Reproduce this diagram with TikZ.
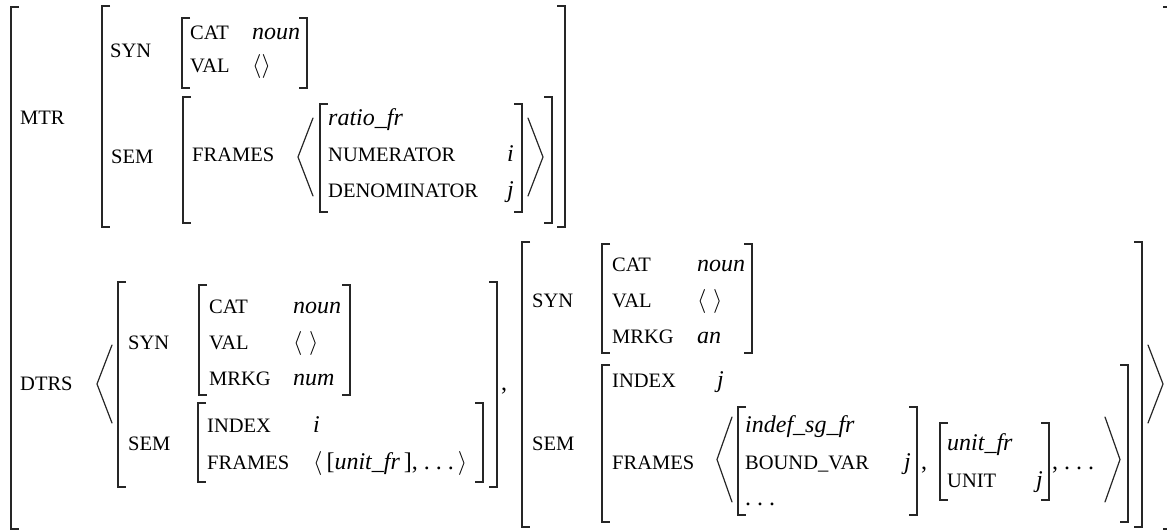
\RequirePackage{fix-cm}
\documentclass[tikz,border=0pt]{standalone}
\usepackage{fontspec}
\setmainfont{Liberation Serif}
\begin{document}
\newcommand{\featfont}{\fontsize{20.5}{24}\selectfont}
\newcommand{\valfont}{\fontsize{24}{28}\selectfont\itshape}
% square brackets: x, top, bottom
\newcommand{\avmL}[3]{\draw[brk] (#1+8,#2) -- (#1,#2) -- (#1,#3) -- (#1+8,#3);}
\newcommand{\avmR}[3]{\draw[brk] (#1-8,#2) -- (#1,#2) -- (#1,#3) -- (#1-8,#3);}
% angle brackets: tip x, open x, top, bottom
\newcommand{\angB}[4]{\draw[ang] (#2,#3) -- (#1,{(#3+#4)/2}) -- (#2,#4);}
\begin{tikzpicture}[x=1pt,y=-1pt,
  feat/.style={font=\featfont, inner sep=0pt, anchor=base west},
  val/.style={font=\valfont, inner sep=0pt, anchor=base west},
  brk/.style={line width=1.5pt, line cap=butt, line join=miter, draw=black!85},
  ang/.style={line width=1.2pt, line cap=round, draw=black!85}]
\useasboundingbox (0,0) rectangle (1167,531);

% outer matrix
\avmL{11}{7}{529}
\avmR{1171}{7}{529}

% ---------- MTR ----------
\node[feat] (mtr) at (20,124) {MTR};
\avmL{102}{6}{227} \avmR{565}{6}{227}
\node[feat] (msyn) at (110,57) {SYN};
\avmL{182}{18}{88} \avmR{307}{18}{88}
\node[feat] (mcat) at (190,39) {CAT};
\node[val] (mcatv) at (252,39) {noun};
\node[feat] (mval) at (190,72) {VAL};
\node[val] (mvalv) at (252,72) {$\langle\rangle$};
\node[feat] (msem) at (111,163) {SEM};
\avmL{183}{97}{223} \avmR{552}{97}{223}
\node[feat] (mframes) at (192,161) {FRAMES};
\angB{298}{313}{118}{196}
\avmL{320}{104}{212} \avmR{522}{104}{212}
\node[val] (ratio) at (328,125) {ratio\_fr};
\node[feat] (num) at (328,161) {NUMERATOR};
\node[val,anchor=base east] (numv) at (514,161) {i};
\node[feat] (den) at (328,197) {DENOMINATOR};
\node[val,anchor=base east] (denv) at (514,197) {j};
\angB{543}{528}{118}{196}

% ---------- DTRS ----------
\node[feat] (dtrs) at (20,390) {DTRS};
\angB{97}{112}{345}{423}

% first daughter
\avmL{118}{282}{487} \avmR{497}{282}{487}
\node[feat] (asyn) at (128,349) {SYN};
\avmL{199}{285}{395} \avmR{350}{285}{395}
\node[feat] (acat) at (209,313) {CAT};
\node[val] (acatv) at (293,313) {noun};
\node[feat] (aval) at (209,349) {VAL};
\node[val] (avalv) at (293,349) {$\langle\;\rangle$};
\node[feat] (amrkg) at (209,385) {MRKG};
\node[val] (amrkgv) at (293,385) {num};
\node[feat] (asem) at (128,450) {SEM};
\avmL{198}{403}{482} \avmR{483}{403}{482}
\node[feat] (aindex) at (207,432) {INDEX};
\node[val] (aindexv) at (313,432) {i};
\node[feat] (aframes) at (207,469) {FRAMES};
\node[val] (aframesv) at (313,469) {$\langle$\,{\upshape[}unit\_fr\,{\upshape], .\ .\ .}\,$\rangle$};
\node[val,font=\valfont\upshape] (comma1) at (501,390) {,};

% second daughter
\avmL{522}{242}{527} \avmR{1142}{242}{527}
\node[feat] (bsyn) at (532,307) {SYN};
\avmL{602}{244}{353} \avmR{752}{244}{353}
\node[feat] (bcat) at (612,271) {CAT};
\node[val] (bcatv) at (697,271) {noun};
\node[feat] (bval) at (612,307) {VAL};
\node[val] (bvalv) at (697,307) {$\langle\;\rangle$};
\node[feat] (bmrkg) at (612,343) {MRKG};
\node[val] (bmrkgv) at (697,343) {an};
\node[feat] (bsem) at (532,450) {SEM};
\avmL{602}{365}{522} \avmR{1128}{365}{522}
\node[feat] (bindex) at (612,387) {INDEX};
\node[val] (bindexv) at (717,387) {j};
\node[feat] (bframes) at (612,469) {FRAMES};
\angB{717}{732}{417}{502}
\avmL{738}{407}{515} \avmR{917}{407}{515}
\node[val] (indef) at (745,432) {indef\_sg\_fr};
\node[feat] (bound) at (745,469) {BOUND\_VAR};
\node[val,anchor=base east] (boundv) at (911,469) {j};
\node[val,font=\valfont\upshape] (bdots) at (745,505) {.\ .\ .};
\node[val,font=\valfont\upshape] (comma2) at (921,469) {,};
\avmL{940}{423}{500} \avmR{1049}{423}{500}
\node[val] (unitfr) at (947,450) {unit\_fr};
\node[feat] (unit) at (947,487) {UNIT};
\node[val,anchor=base east] (unitv) at (1043,487) {j};
\node[val,font=\valfont\upshape] (tail) at (1052,469) {, .\ .\ .};
\angB{1120}{1105}{417}{502}

\angB{1163}{1148}{345}{423}
\end{tikzpicture}
\end{document}
